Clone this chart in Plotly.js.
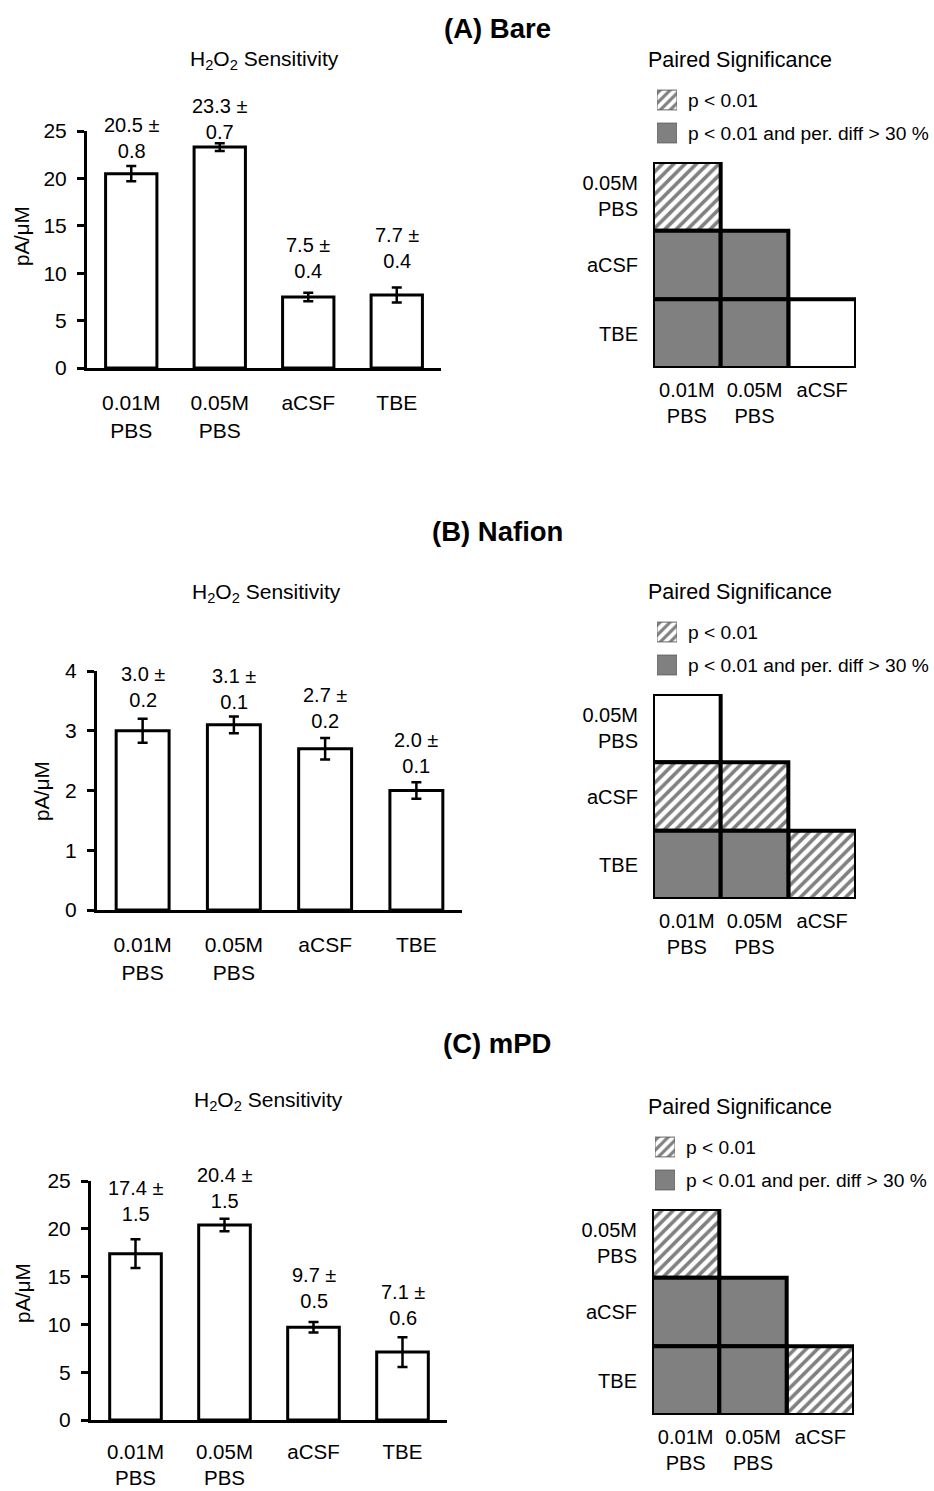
<!DOCTYPE html>
<html><head><meta charset="utf-8">
<script src="https://cdn.plot.ly/plotly-3.0.1.min.js"></script>
<style>html,body{margin:0;padding:0;background:#fff}</style>
</head><body><div id="chart" style="width:934px;height:1491px"></div>
<script>
// ---------- data ----------
const categories = ['0.01M<br>PBS', '0.05M<br>PBS', 'aCSF', 'TBE'];

const bareMean = [20.5, 23.3, 7.5, 7.7];
const bareErr = [0.8, 0.4, 0.45, 0.8];
const bareSdLabel = [0.8, 0.7, 0.4, 0.4];

const nafionMean = [3.0, 3.1, 2.7, 2.0];
const nafionErr = [0.2, 0.14, 0.18, 0.14];
const nafionSdLabel = [0.2, 0.1, 0.2, 0.1];

const mpdMean = [17.4, 20.4, 9.7, 7.1];
const mpdErr = [1.5, 0.65, 0.55, 1.55];
const mpdSdLabel = [1.5, 1.5, 0.5, 0.6];

const sigRows = ['0.05M<br>PBS', 'aCSF', 'TBE'];
const sigCols = ['0.01M<br>PBS', '0.05M<br>PBS', 'aCSF'];
const sigNames = ['n.s.', 'p < 0.01', 'p < 0.01 and per. diff > 30 %'];
const legendKeys = [1, 2];
// 0 = not significant, 1 = p < 0.01, 2 = p < 0.01 and per. diff > 30 %
const bareSig = [[1], [2, 2], [2, 2, 0]];
const nafionSig = [[0], [1, 1], [2, 2, 1]];
const mpdSig = [[1], [2, 2], [2, 2, 1]];

const panelTitles = ['(A) Bare', '(B) Nafion', '(C) mPD'];

// ---------- styles ----------
const W = 934, H = 1491;
const FONT = 'Liberation Sans, Arial, sans-serif';
const fx = v => v / W;
const fy = v => 1 - v / H;
const codeColor = ['#fff', '#fff', '#808080'];
const codePattern = ['', '/', ''];

const panels = [
  {mean: bareMean, err: bareErr, sd: bareSdLabel, sig: bareSig,
   titleY: 28, subY: 60, subX: 264, barX: [87, 441], barY: [131, 368], range: [0, 25], dtick: 5,
   shift: [28, 24, 35, 39], yTitle: [21, 236], xTickSize: 21, xStandoff: 14,
   heatX: [653, 856], heatY: [162, 368], pairedY: 60, legendY: 100, legendX: 657},
  {mean: nafionMean, err: nafionErr, sd: nafionSdLabel, sig: nafionSig,
   titleY: 531, subY: 593, subX: 266, barX: [97, 462], barY: [671, 910], range: [0, 4], dtick: 1,
   shift: [32, 27, 30, 29], yTitle: [41, 791], xTickSize: 21, xStandoff: 14,
   heatX: [653, 856], heatY: [694, 899], pairedY: 592, legendY: 632, legendX: 657},
  {mean: mpdMean, err: mpdErr, sd: mpdSdLabel, sig: mpdSig,
   titleY: 1043, subY: 1101, subX: 268, barX: [91, 447], barY: [1181, 1420], range: [0, 25], dtick: 5,
   shift: [38, 31, 34, 32], yTitle: [22, 1293], xTickSize: 20.5, xStandoff: 11,
   heatX: [652, 854], heatY: [1209, 1415], pairedY: 1107, legendY: 1147, legendX: 655}
];

const traces = [];
const annotations = [];
const layout = {
  width: W, height: H, margin: {l: 0, r: 0, t: 0, b: 0},
  paper_bgcolor: '#fff', plot_bgcolor: 'rgba(0,0,0,0)',
  font: {family: FONT, size: 20, color: '#000'},
  barmode: 'overlay', showlegend: false, hovermode: false
};
const ax = n => (n === 1 ? '' : String(n));

function cellMarker(code, lineColor, lineWidth, size) {
  const m = {color: codeColor[code], line: {color: lineColor, width: lineWidth}};
  if (codePattern[code]) m.pattern = {shape: codePattern[code], fgcolor: '#808080', bgcolor: '#fff', size: size, solidity: 0.45};
  return m;
}

panels.forEach((p, i) => {
  const b = 3 * i + 1, h = 3 * i + 2, l = 3 * i + 3;

  // ---- bar chart ----
  layout['xaxis' + ax(b)] = {
    domain: [fx(p.barX[0]), fx(p.barX[1])], anchor: 'y' + ax(b), type: 'category',
    categoryorder: 'array', categoryarray: categories, range: [-0.5, 3.5],
    showline: true, linewidth: 3, linecolor: '#000', ticks: '', showgrid: false, zeroline: false,
    tickfont: {size: p.xTickSize, color: '#000'}, ticklabelstandoff: p.xStandoff, fixedrange: true
  };
  layout['yaxis' + ax(b)] = {
    domain: [fy(p.barY[1]), fy(p.barY[0])], anchor: 'x' + ax(b), range: p.range, dtick: p.dtick,
    showline: true, linewidth: 3, linecolor: '#000', ticks: 'outside', ticklen: 7, tickwidth: 3,
    tickcolor: '#000', showgrid: false, zeroline: false, tickfont: {size: 21, color: '#000'},
    ticklabelstandoff: 6, fixedrange: true
  };
  traces.push({
    type: 'bar', x: categories, y: p.mean, width: 0.58, xaxis: 'x' + ax(b), yaxis: 'y' + ax(b),
    marker: {color: '#fff', line: {color: '#000', width: 3}},
    error_y: {type: 'data', array: p.err, visible: true, color: '#000', thickness: 2.5, width: 5},
    hoverinfo: 'skip'
  });
  p.mean.forEach((m, k) => {
    annotations.push({
      xref: 'x' + ax(b), yref: 'y' + ax(b), x: categories[k], y: m + p.err[k], yanchor: 'middle', yshift: p.shift[k],
      text: m.toFixed(1) + ' \u00b1<br>' + p.sd[k].toFixed(1), showarrow: false,
      font: {size: 20, color: '#000'}, align: 'center'
    });
  });

  // ---- titles ----
  annotations.push({xref: 'paper', yref: 'paper', x: fx(497), y: fy(p.titleY), text: '<b>' + panelTitles[i] + '</b>',
    showarrow: false, font: {size: 27.5, color: '#000'}, xanchor: 'center', yanchor: 'middle'});
  annotations.push({xref: 'paper', yref: 'paper', x: fx(p.subX), y: fy(p.subY), text: 'H<sub>2</sub>O<sub>2</sub> Sensitivity',
    showarrow: false, font: {size: 21, color: '#000'}, xanchor: 'center', yanchor: 'middle'});
  annotations.push({xref: 'paper', yref: 'paper', x: fx(p.yTitle[0]), y: fy(p.yTitle[1]), text: 'pA/\u03bcM',
    textangle: -90, showarrow: false, font: {size: 20.5, color: '#000'}, xanchor: 'center', yanchor: 'middle'});
  annotations.push({xref: 'paper', yref: 'paper', x: fx(740), y: fy(p.pairedY), text: 'Paired Significance',
    showarrow: false, font: {size: 21.5, color: '#000'}, xanchor: 'center', yanchor: 'middle'});

  // ---- significance matrix ----
  layout['xaxis' + ax(h)] = {
    domain: [fx(p.heatX[0]), fx(p.heatX[1])], anchor: 'y' + ax(h), type: 'category',
    categoryorder: 'array', categoryarray: sigCols, range: [-0.5, 2.5],
    showline: false, ticks: '', showgrid: false, zeroline: false,
    tickfont: {size: 20, color: '#000'}, ticklabelstandoff: 8, fixedrange: true
  };
  layout['yaxis' + ax(h)] = {
    domain: [fy(p.heatY[1]), fy(p.heatY[0])], anchor: 'x' + ax(h), range: [sigRows.length, 0],
    tickvals: sigRows.map((r, k) => k + 0.5), ticktext: sigRows,
    showline: false, ticks: '', showgrid: false, zeroline: false,
    tickfont: {size: 20, color: '#000'}, ticklabelstandoff: 14, fixedrange: true
  };
  [0, 1, 2].forEach(code => {
    const xs = [], bases = [], hs = [];
    p.sig.forEach((row, r) => row.forEach((c, col) => {
      if (c === code) { xs.push(sigCols[col]); bases.push(r); hs.push(1); }
    }));
    traces.push({
      type: 'bar', x: xs, y: hs, base: bases, width: 1, xaxis: 'x' + ax(h), yaxis: 'y' + ax(h),
      marker: cellMarker(code, '#000', 4, 8), name: sigNames[code], hoverinfo: 'skip'
    });
  });

  // ---- legend key (drawn as a small keyed bar axis) ----
  const keyNames = legendKeys.map(c => sigNames[c]);
  layout['xaxis' + ax(l)] = {
    domain: [fx(p.legendX), fx(p.legendX + 20)], anchor: 'y' + ax(l), range: [0, 1],
    visible: false, fixedrange: true
  };
  layout['yaxis' + ax(l)] = {
    domain: [fy(p.legendY + 49.5), fy(p.legendY - 16.5)], anchor: 'x' + ax(l), type: 'category',
    categoryorder: 'array', categoryarray: keyNames, range: [1.5, -0.5], side: 'right',
    showline: false, ticks: '', showgrid: false, zeroline: false,
    tickfont: {size: 19.2, color: '#000'}, ticklabelstandoff: 10, fixedrange: true
  };
  legendKeys.forEach(code => {
    traces.push({
      type: 'bar', orientation: 'h', y: [sigNames[code]], x: [1], width: 0.6,
      xaxis: 'x' + ax(l), yaxis: 'y' + ax(l),
      marker: cellMarker(code, '#666', 1, 7), hoverinfo: 'skip'
    });
  });
});
layout.annotations = annotations;

Plotly.newPlot('chart', traces, layout, {staticPlot: true, displayModeBar: false});
</script>
</body></html>
